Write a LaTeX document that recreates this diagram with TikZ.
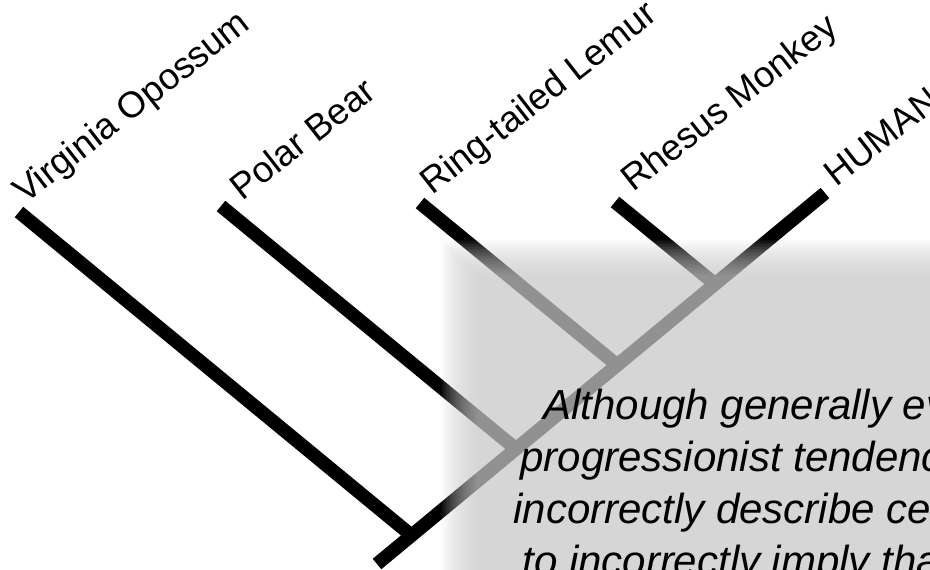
\documentclass[tikz,border=0pt]{standalone}
\usepackage{fontspec}
\setmainfont{Liberation Sans}
\def\lw{0.27cm}
\colorlet{panelgray}{black!21}

\begin{document}
\begin{tikzpicture}[x=0.02cm,y=-0.02cm,line cap=butt,
    branch/.style={line width=\lw,black},
    taxon/.style={anchor=base west,rotate=38,inner sep=0pt,font=\fontsize{20.8}{24}\selectfont},
    note/.style={anchor=base west,inner sep=0pt,font=\fontsize{23.9}{29}\selectfont\itshape}]

    \useasboundingbox (0,0) rectangle (930,570);

    % leaves, root and the points where the branches meet the trunk
    \draw (19,212) coordinate (opossum);
    \draw (221,206) coordinate (bear);
    \draw (420,203) coordinate (lemur);
    \draw (615,202) coordinate (rhesus);
    \draw (825,193) coordinate (human);
    \draw (377,564) coordinate (root);
    \draw (411,535) coordinate (j1);
    \draw (516,449) coordinate (j2);
    \draw (617,365) coordinate (j3);
    \draw (715,284) coordinate (j4);

    \draw[branch] (root) -- (human);
    \draw[branch] (opossum) -- (j1);
    \draw[branch] (bear) -- (j2);
    \draw[branch] (lemur) -- (j3);
    \draw[branch] (rhesus) -- (j4);

    \draw (25,205) node[taxon] (lopossum) {Virginia Opossum};
    \draw (242,202) node[taxon] (lbear) {Polar Bear};
    \draw (432,196) node[taxon] (llemur) {Ring-tailed Lemur};
    \draw (633,193) node[taxon] (lrhesus) {Rhesus Monkey};
    \draw (836,188) node[taxon] (lhuman) {HUMAN};

    % grey panel with soft edges
    \foreach \i in {0,...,24}
        \fill[panelgray,opacity=0.056] (441+1.5*\i,240+1.5*\i) rectangle (960,600);

    \draw (543,420) node[note] (n1) {Although generally ev};
    \draw (520,472) node[note] (n2) {progressionist tendenc};
    \draw (513,524) node[note] (n3) {incorrectly describe cer};
    \draw (522,576) node[note] (n4) {to incorrectly imply tha};

\end{tikzpicture}
\end{document}
